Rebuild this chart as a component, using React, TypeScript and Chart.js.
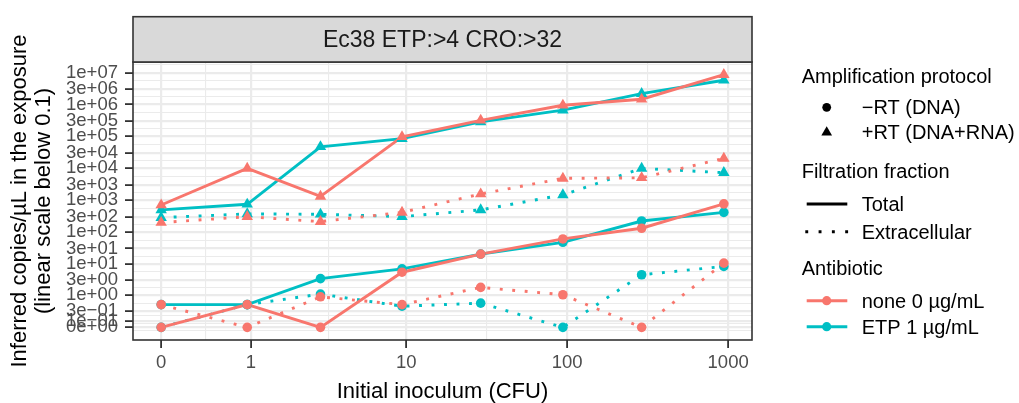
import React, { useEffect, useRef } from 'react';
import { Chart, registerables } from 'chart.js';

Chart.register(...registerables);

// Initial inoculum (CFU) for each sample
const inoculum = [0, 0.94, 2.9, 9.4, 29, 94, 290, 940];

// Inferred copies/µL — no antibiotic
const noneDnaTotal = [0, 0.5, 0, 5.4, 20, 60, 130, 760];
const noneDnaExtracellular = [0.5, 0, 0.9, 0.5, 1.8, 1.05, 0, 10.4];
const noneRnaTotal = [700, 9900, 1300, 97000, 320000, 950000, 1470000, 8700000];
const noneRnaExtracellular = [196, 300, 210, 410, 1550, 4800, 5000, 20300];

// Inferred copies/µL — ertapenem 1 µg/mL
const etpDnaTotal = [0.5, 0.5, 3.4, 6.9, 20, 47, 220, 410];
const etpDnaExtracellular = [0, 0.5, 1.1, 0.44, 0.56, 0, 4.5, 8.2];
const etpRnaTotal = [490, 735, 47000, 85000, 286000, 665000, 2200000, 5800000];
const etpRnaExtracellular = [281, 367, 357, 302, 490, 1450, 9860, 7230];

// Axis breaks
const xTickValues = [0, 1, 10, 100, 1000];
const xTickLabels = ['0', '1', '10', '100', '1000'];
const yTickValues = [1e7, 3e6, 1e6, 3e5, 1e5, 3e4, 1e4, 3e3, 1e3, 300, 100, 30, 10, 3, 1, 0.3, 0.1, 0];
const yTickLabels = [
  '1e+07', '3e+06', '1e+06', '3e+05', '1e+05', '3e+04', '1e+04', '3e+03', '1e+03',
  '3e+02', '1e+02', '3e+01', '1e+01', '3e+00', '1e+00', '3e\u221201', '1e\u221201', '0e+00',
];

// Text
const stripTitle = 'Ec38 ETP:>4 CRO:>32';
const xTitle = 'Initial inoculum (CFU)';
const yTitleLines = ['Inferred copies/\u00b5L in the exposure', '(linear scale below 0.1)'];
const protocolTitle = 'Amplification protocol';
const protocolLabels = ['\u2212RT (DNA)', '+RT (DNA+RNA)'];
const fractionTitle = 'Filtration fraction';
const fractionLabels = ['Total', 'Extracellular'];
const antibioticTitle = 'Antibiotic';
const antibioticLabels = ['none 0 \u00b5g/mL', 'ETP 1 \u00b5g/mL'];

const FONT = '"Liberation Sans", Arial, Helvetica, sans-serif';
const NONE_COLOR = '#F8766D';
const ETP_COLOR = '#00BFC4';
const LINE_W = 2.9;
const DOT_DASH = [2.9, 9.6];
const CIRCLE_R = 4.8;
const TRIANGLE_R = 6.6;

// pseudo-log transforms (asinh based), linear close to zero
const toX = (v: number) => Math.asinh(v / 0.6) / Math.LN10;
const toY = (v: number) => Math.asinh(v / 0.2) / Math.LN10;

const X_MIN = -0.175;
const X_MAX = 3.671;
const Y_MIN = -0.397;
const Y_MAX = 8.337;

type TickItem = { value: number; text: string; minor: boolean };

function buildTicks(values: number[], labels: string[], t: (v: number) => number, min: number, max: number): TickItem[] {
  const majors = values
    .map((v, i) => ({ value: t(v), text: labels[i], minor: false }))
    .sort((a, b) => a.value - b.value);
  const pos = majors.map((m) => m.value);
  const n = pos.length;
  const ext = [pos[0] - (pos[1] - pos[0]), ...pos, pos[n - 1] + (pos[n - 1] - pos[n - 2])];
  const minors: TickItem[] = [];
  for (let i = 0; i < ext.length - 1; i++) {
    const mid = (ext[i] + ext[i + 1]) / 2;
    if (mid >= min && mid <= max) minors.push({ value: mid, text: '', minor: true });
  }
  return [...minors, ...majors];
}

type SeriesDef = { values: number[]; color: string; shape: 'circle' | 'triangle'; dotted: boolean; front: boolean };

const seriesDefs: SeriesDef[] = [
  { values: etpDnaTotal, color: ETP_COLOR, shape: 'circle', dotted: false, front: false },
  { values: etpDnaExtracellular, color: ETP_COLOR, shape: 'circle', dotted: true, front: false },
  { values: etpRnaTotal, color: ETP_COLOR, shape: 'triangle', dotted: false, front: false },
  { values: etpRnaExtracellular, color: ETP_COLOR, shape: 'triangle', dotted: true, front: false },
  { values: noneDnaTotal, color: NONE_COLOR, shape: 'circle', dotted: false, front: true },
  { values: noneDnaExtracellular, color: NONE_COLOR, shape: 'circle', dotted: true, front: true },
  { values: noneRnaTotal, color: NONE_COLOR, shape: 'triangle', dotted: false, front: true },
  { values: noneRnaExtracellular, color: NONE_COLOR, shape: 'triangle', dotted: true, front: true },
];

function drawTriangle(ctx: CanvasRenderingContext2D, x: number, y: number, r: number) {
  ctx.beginPath();
  ctx.moveTo(x, y - r);
  ctx.lineTo(x + r * 0.866, y + r * 0.5);
  ctx.lineTo(x - r * 0.866, y + r * 0.5);
  ctx.closePath();
  ctx.fill();
}

const decorPlugin = {
  id: 'facetDecor',
  afterDatasetsDraw(chart: any) {
    const { ctx, chartArea } = chart;
    ctx.save();
    ctx.strokeStyle = '#333333';
    ctx.lineWidth = 1.6;
    ctx.strokeRect(chartArea.left, chartArea.top, chartArea.right - chartArea.left, chartArea.bottom - chartArea.top);
    ctx.restore();
  },
  afterDraw(chart: any) {
    const { ctx, chartArea } = chart;
    const left = chartArea.left;
    const right = chartArea.right;
    ctx.save();

    // facet strip
    const stripTop = 16.7;
    ctx.fillStyle = '#D9D9D9';
    ctx.fillRect(left, stripTop, right - left, chartArea.top - stripTop);
    ctx.strokeStyle = '#333333';
    ctx.lineWidth = 1.6;
    ctx.strokeRect(left, stripTop, right - left, chartArea.top - stripTop);
    ctx.fillStyle = '#1A1A1A';
    ctx.font = `23px ${FONT}`;
    ctx.textAlign = 'center';
    ctx.textBaseline = 'alphabetic';
    ctx.fillText(stripTitle, (left + right) / 2, 47.3);

    // axis titles
    ctx.fillStyle = '#000000';
    ctx.font = `22px ${FONT}`;
    ctx.fillText(xTitle, (left + right) / 2, 398.3);
    ctx.save();
    ctx.translate(0, (chartArea.top + chartArea.bottom) / 2);
    ctx.rotate(-Math.PI / 2);
    ctx.textBaseline = 'middle';
    ctx.fillText(yTitleLines[0], 0, 19.5);
    ctx.fillText(yTitleLines[1], 0, 43.5);
    ctx.restore();

    // legends
    const titleX = 801.7;
    const keyX = 826.7;
    const keyL = 806.7;
    const keyR = 847.3;
    const labelX = 861.7;
    ctx.textAlign = 'left';
    ctx.textBaseline = 'alphabetic';
    ctx.font = `20px ${FONT}`;
    ctx.fillStyle = '#000000';

    ctx.fillText(protocolTitle, titleX, 82.7);
    ctx.fillText(protocolLabels[0], labelX, 114.3);
    ctx.fillText(protocolLabels[1], labelX, 138.8);
    ctx.beginPath();
    ctx.arc(keyX, 107.3, 4.4, 0, Math.PI * 2);
    ctx.fill();
    drawTriangle(ctx, keyX, 132.5, 6.2);

    ctx.fillText(fractionTitle, titleX, 178.3);
    ctx.fillText(fractionLabels[0], labelX, 210.9);
    ctx.fillText(fractionLabels[1], labelX, 238.5);
    ctx.strokeStyle = '#000000';
    ctx.lineWidth = LINE_W;
    ctx.lineCap = 'butt';
    ctx.beginPath();
    ctx.moveTo(keyL, 204);
    ctx.lineTo(keyR, 204);
    ctx.stroke();
    ctx.setLineDash([2.9, 10.4]);
    ctx.beginPath();
    ctx.moveTo(keyL - 1.4, 231.7);
    ctx.lineTo(keyR + 1.4, 231.7);
    ctx.stroke();
    ctx.setLineDash([]);

    ctx.fillText(antibioticTitle, titleX, 275);
    ctx.fillText(antibioticLabels[0], labelX, 308.2);
    ctx.fillText(antibioticLabels[1], labelX, 334.2);
    const keyRows: [number, string][] = [[300.7, NONE_COLOR], [326.7, ETP_COLOR]];
    keyRows.forEach(([y, c]) => {
      ctx.strokeStyle = c;
      ctx.fillStyle = c;
      ctx.beginPath();
      ctx.moveTo(keyL, y);
      ctx.lineTo(keyR, y);
      ctx.stroke();
      ctx.beginPath();
      ctx.arc(keyX, y, 4.6, 0, Math.PI * 2);
      ctx.fill();
    });

    ctx.restore();
  },
};

export default function App() {
  const canvasRef = useRef<HTMLCanvasElement | null>(null);

  useEffect(() => {
    if (!canvasRef.current) return;

    const datasets: any[] = [];
    seriesDefs.forEach((s) => {
      const pts = s.values.map((v, i) => ({ x: toX(inoculum[i]), y: toY(v) }));
      datasets.push({
        type: 'line',
        data: pts,
        borderColor: s.color,
        borderWidth: LINE_W,
        borderDash: s.dotted ? DOT_DASH : [],
        borderCapStyle: 'butt',
        pointRadius: 0,
        fill: false,
        tension: 0,
        order: s.front ? 3 : 4,
      });
      datasets.push({
        type: 'line',
        data: pts,
        showLine: false,
        pointStyle: s.shape,
        pointRadius: s.shape === 'circle' ? CIRCLE_R : TRIANGLE_R,
        pointBackgroundColor: s.color,
        pointBorderWidth: 0,
        pointBorderColor: s.color,
        order: s.front ? 1 : 2,
      });
    });

    const xTicks = buildTicks(xTickValues, xTickLabels, toX, X_MIN, X_MAX);
    const yTicks = buildTicks(yTickValues, yTickLabels, toY, Y_MIN, Y_MAX);

    const gridOpts = {
      color: '#EBEBEB',
      lineWidth: (c: any) => (c.tick && c.tick.minor ? 1.1 : 2.2),
      tickColor: (c: any) => (c.tick && c.tick.minor ? 'rgba(0,0,0,0)' : '#333333'),
      tickWidth: 1.8,
      tickLength: 8,
      drawTicks: true,
    };

    const chart = new Chart(canvasRef.current, {
      type: 'line',
      data: { datasets },
      plugins: [decorPlugin],
      options: {
        animation: false,
        responsive: false,
        events: [],
        layout: { padding: { left: 0, top: 62, right: 267, bottom: 0 } },
        plugins: { legend: { display: false }, tooltip: { enabled: false } },
        scales: {
          x: {
            type: 'linear',
            position: 'bottom',
            min: X_MIN,
            max: X_MAX,
            border: { display: false },
            grid: gridOpts,
            afterBuildTicks: (scale: any) => {
              scale.ticks = xTicks.map((t) => ({ ...t }));
            },
            afterFit: (scale: any) => {
              scale.height = 63;
            },
            ticks: {
              autoSkip: false,
              maxRotation: 0,
              padding: 4,
              color: '#4D4D4D',
              font: { family: FONT, size: 18.5 },
              callback: (_v: any, i: number, ticks: any[]) => ticks[i].text,
            },
          },
          y: {
            type: 'linear',
            position: 'left',
            min: Y_MIN,
            max: Y_MAX,
            border: { display: false },
            grid: gridOpts,
            afterBuildTicks: (scale: any) => {
              scale.ticks = yTicks.map((t) => ({ ...t }));
            },
            afterFit: (scale: any) => {
              scale.width = 133;
            },
            ticks: {
              autoSkip: false,
              padding: 7,
              color: '#4D4D4D',
              font: { family: FONT, size: 18.5 },
              callback: (_v: any, i: number, ticks: any[]) => ticks[i].text,
            },
          },
        },
      } as any,
    });

    return () => chart.destroy();
  }, []);

  return (
    <div style={{ position: 'fixed', left: 0, top: 0, width: 1019, height: 403, background: '#ffffff' }}>
      <canvas ref={canvasRef} width={1019} height={403} style={{ width: 1019, height: 403, display: 'block' }} />
    </div>
  );
}
